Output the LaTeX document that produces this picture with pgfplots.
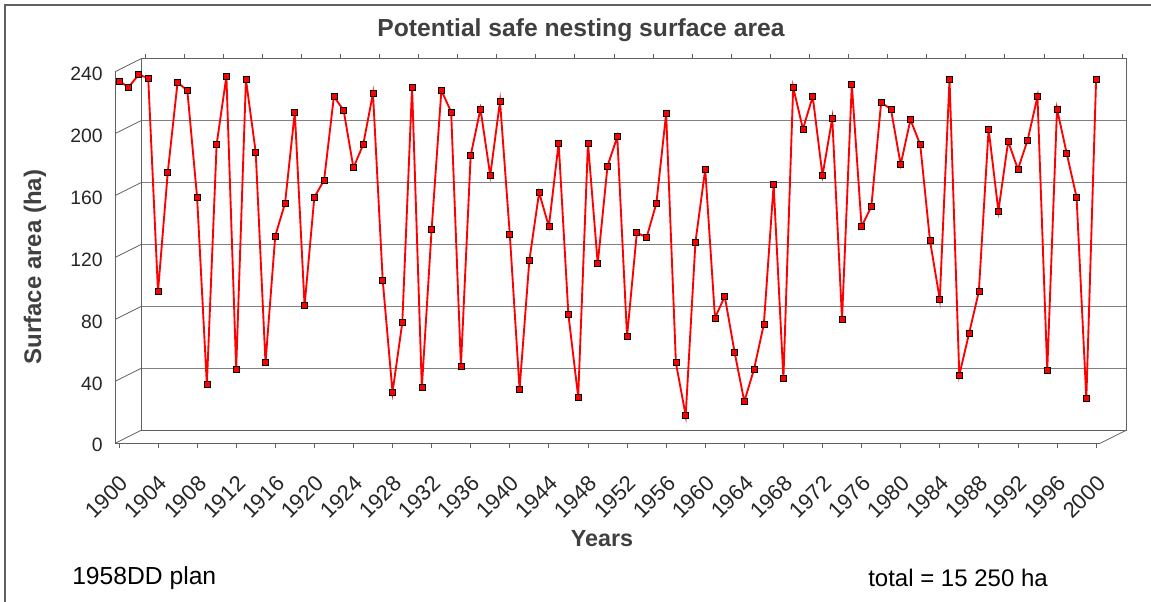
\documentclass[border=0pt]{standalone}
\usepackage{fontspec}
\setmainfont{Liberation Sans}
\usepackage{pgfplots}
\pgfplotsset{compat=1.18}
\definecolor{wallc}{HTML}{606060}
\definecolor{gridc}{HTML}{808080}
\definecolor{titc}{HTML}{404040}
\begin{document}
\begin{tikzpicture}
\begin{scope}[x=0.75pt,y=-0.75pt]
\useasboundingbox (0,0) rectangle (1151,602);
\fill[white] (0,0) rectangle (1151,602);
\draw[wallc, line width=0.8pt] (5,602) -- (5,5) -- (1151,5);
\end{scope}
\begin{axis}[
  at={(86.25pt,-332.5pt)}, anchor=south west,
  scale only axis, width=738.75pt, height=278.7pt,
  xmin=1899.6, xmax=2000.4, ymin=0, ymax=240,
  clip=false,
  axis x line*=bottom, axis y line*=left,
  axis line style={wallc, line width=0.6pt, -},
  xtick={1900,1904,...,2000},
  ytick={0,40,...,240},
  tick align=outside,
  major tick length=3.75pt,
  xtick style={wallc, line width=0.6pt},
  ytick style={draw=none},
  /pgf/number format/1000 sep={},
  /pgf/number format/assume math mode=true,
  ticklabel style={text=black!85},
  xticklabel style={xshift=-0.2pt, yshift=-17.75pt, font=\fontsize{16.5}{19}\selectfont, rotate=45, anchor=north east, inner sep=1pt},
  yticklabel style={font=\fontsize{14.5}{17}\selectfont, anchor=east, inner sep=0pt, xshift=-5.25pt, yshift=-1.5pt},
]
% left side wall diagonals
\pgfplotsinvokeforeach{0,40,...,240}{
  \draw[wallc, line width=0.6pt] (axis cs:1899.6,#1) -- ([shift={(19.5pt,9.75pt)}]axis cs:1899.6,#1);
}
% back wall gridlines
\pgfplotsinvokeforeach{40,80,...,200}{
  \draw[gridc, line width=0.9pt] ([shift={(19.5pt,9.75pt)}]axis cs:1899.6,#1) -- ([shift={(19.5pt,9.75pt)}]axis cs:2000.4,#1);
}
% back wall outline
\draw[wallc, line width=0.6pt]
  ([shift={(19.5pt,9.75pt)}]axis cs:1899.6,240) -- ([shift={(19.5pt,9.75pt)}]axis cs:1899.6,0)
  -- ([shift={(19.5pt,9.75pt)}]axis cs:2000.4,0) -- ([shift={(19.5pt,9.75pt)}]axis cs:2000.4,240)
  -- ([shift={(19.5pt,9.75pt)}]axis cs:1899.6,240);
\draw[wallc, line width=0.6pt] (axis cs:2000.4,0) -- ([shift={(19.5pt,9.75pt)}]axis cs:2000.4,0);
% top ticks on back wall
\pgfplotsinvokeforeach{1900,1904,...,2000}{
  \draw[wallc, line width=0.6pt] ([shift={(19.5pt,9.75pt)}]axis cs:#1,240) -- ([shift={(19.5pt,13.5pt)}]axis cs:#1,240);
}
\addplot[red, line width=1.4pt, mark=square*, mark size=2.25pt,
  mark options={fill=red, draw=black, line width=0.5pt}] coordinates {
(1900,234) (1901,230) (1902,238) (1903,236) (1904,98) (1905,175) (1906,233) (1907,228) (1908,159) (1909,38)
(1910,193) (1911,237) (1912,48) (1913,235) (1914,188) (1915,52) (1916,134) (1917,155) (1918,214) (1919,89)
(1920,159) (1921,170) (1922,224) (1923,215) (1924,178) (1925,193) (1926,226) (1927,105) (1928,33) (1929,78)
(1930,230) (1931,36) (1932,138) (1933,228) (1934,214) (1935,50) (1936,186) (1937,216) (1938,173) (1939,221)
(1940,135) (1941,35) (1942,118) (1943,162) (1944,140) (1945,194) (1946,83) (1947,30) (1948,194) (1949,116)
(1950,179) (1951,198) (1952,69) (1953,136) (1954,133) (1955,155) (1956,213) (1957,52) (1958,18) (1959,130)
(1960,177) (1961,81) (1962,95) (1963,59) (1964,27) (1965,48) (1966,77) (1967,167) (1968,42) (1969,230)
(1970,203) (1971,224) (1972,173) (1973,210) (1974,80) (1975,232) (1976,140) (1977,153) (1978,220) (1979,216)
(1980,180) (1981,209) (1982,193) (1983,131) (1984,93) (1985,235) (1986,44) (1987,71) (1988,98) (1989,203)
(1990,150) (1991,195) (1992,177) (1993,196) (1994,224) (1995,47) (1996,216) (1997,187) (1998,159) (1999,29)
(2000,235)
};
\end{axis}
\begin{scope}[x=0.75pt,y=-0.75pt]
\node[text=titc, font=\bfseries\fontsize{18.5}{22}\selectfont] at (581,30) {Potential safe nesting surface area};
\node[text=titc, font=\bfseries\fontsize{17.5}{21}\selectfont] at (602,539) {Years};
\node[text=titc, font=\bfseries\fontsize{18}{22}\selectfont, rotate=90] at (35,267) {Surface area (ha)};
\node[anchor=west, inner sep=0pt, font=\fontsize{18.5}{22}\selectfont] at (72,578) {1958DD plan};
\node[inner sep=0pt, font=\fontsize{18}{22}\selectfont] at (958,578) {total = 15 250 ha};
\end{scope}
\end{tikzpicture}
\end{document}
